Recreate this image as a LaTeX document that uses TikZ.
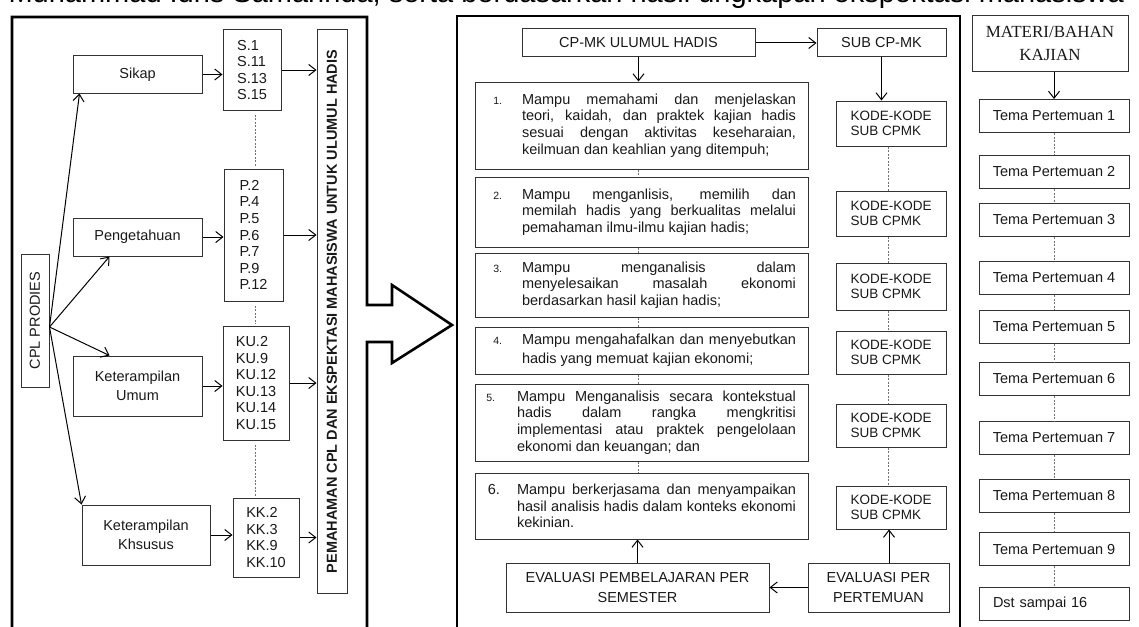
\documentclass[tikz,border=0pt]{standalone}
\usepackage{fontspec}
\setmainfont{Liberation Sans}
\newfontfamily\serifmateri{Liberation Serif}
\usetikzlibrary{arrows.meta}
\tolerance=10000
\hyphenpenalty=10000
\newcommand\nomor[1]{\noindent\llap{{\fontsize{10.5}{12}\selectfont #1}\hspace{20pt}}}

\begin{document}
\begin{tikzpicture}
    [
        x=1pt, y=-1pt,
        font=\fontsize{14.5}{16.6}\selectfont,
        box/.style={draw=black!80, line width=1pt, inner sep=0pt, align=center, text=black!90},
        twoline/.style={font=\fontsize{14.5}{19}\selectfont},
        frame/.style={line width=2.6pt, line join=miter},
        itemtext/.style={inner sep=0pt, text width=274pt, align=justify, text=black!90},
        kode/.style={box, minimum width=110pt, align=left, font=\fontsize{13.5}{15}\selectfont},
        tema/.style={box, minimum width=150pt, minimum height=33pt},
        dashline/.style={draw=black!55, line width=0.9pt, dash pattern=on 2pt off 1.5pt},
        conn/.style={->, line width=1pt},
        >={Straight Barb[length=7pt,width=11pt]}
    ]
    \useasboundingbox (0,0) rectangle (1139,626);
    \clip (0,0) rectangle (1139,626);

    \node[anchor=base west, font=\fontsize{29}{32}\selectfont] (judul) at (5,3)
        {Muhammad Idris Samarinda, serta berdasarkan hasil ungkapan ekspektasi mahasiswa};

    \draw[frame] (12,640) -- (12,17) -- (367,17) -- (367,305) -- (392,305) -- (392,285)
        -- (452,325) -- (392,363) -- (392,342) -- (367,342) -- (367,640);
    \draw[frame] (457,640) -- (457,16) -- (960,16) -- (960,640);

    \node[box, rotate=90, minimum width=133pt, minimum height=28pt] (cpl) at (35,320.5) {CPL PRODIES};
    \node[box, minimum width=129pt, minimum height=37pt] (sikap) at (137.5,74.5) {Sikap};
    \node[box, minimum width=129pt, minimum height=38pt] (penget) at (137.5,237) {Pengetahuan};
    \node[box, twoline, minimum width=129pt, minimum height=60pt] (kumum) at (137.5,386) {Keterampilan\\Umum};
    \node[box, twoline, minimum width=128pt, minimum height=60pt] (kkhusus) at (146,535) {Keterampilan\\Khsusus};
    \node[box, align=left, minimum width=58pt, minimum height=80pt] (kodes) at (252,70) {S.1\\S.11\\S.13\\S.15};
    \node[box, align=left, minimum width=59pt, minimum height=132pt] (kodep) at (253.5,235) {P.2\\P.4\\P.5\\P.6\\P.7\\P.9\\P.12};
    \node[box, align=left, minimum width=66pt, minimum height=114pt] (kodeku) at (256,383) {KU.2\\KU.9\\KU.12\\KU.13\\KU.14\\KU.15};
    \node[box, align=left, minimum width=66pt, minimum height=79pt] (kodekk) at (266,537.5) {KK.2\\KK.3\\KK.9\\KK.10};
    \node[box, rotate=90, minimum width=563pt, minimum height=30pt, font=\fontsize{14.5}{16.6}\selectfont\bfseries] (pemahaman) at (332,311.5)
        {PEMAHAMAN CPL DAN EKSPEKTASI MAHASISWA UNTUK ULUMUL HADIS};

    \coordinate (hub) at ([yshift=-6.5pt]cpl.south);
    \coordinate (dashx) at ([xshift=3pt]kodes.south);
    \draw[conn] (hub) -- ([xshift=7pt]sikap.south west);
    \draw[conn] (hub) -- ([xshift=37pt]penget.south west);
    \draw[conn] (hub) -- ([xshift=37pt]kumum.north west);
    \draw[conn] (hub) -- (kkhusus.north west);
    \draw[conn] (sikap.east) -- (sikap.east -| kodes.west);
    \draw[conn] (penget.east) -- (penget.east -| kodep.west);
    \draw[conn] (kumum.east) -- (kumum.east -| kodeku.west);
    \draw[conn] (kkhusus.east) -- (kkhusus.east -| kodekk.west);
    \draw[conn] (kodes.east) -- (kodes.east -| pemahaman.north);
    \draw[conn] (kodep.east) -- (kodep.east -| pemahaman.north);
    \draw[conn] (kodeku.east) -- (kodeku.east -| pemahaman.north);
    \draw[conn] (kodekk.east) -- (kodekk.east -| pemahaman.north);
    \draw[dashline, shorten <=4pt, shorten >=2pt] (dashx) -- (kodep.north -| dashx);
    \draw[dashline, shorten <=4pt, shorten >=2pt] (kodep.south -| dashx) -- (kodeku.north -| dashx);
    \draw[dashline, shorten <=4pt, shorten >=2pt] (kodeku.south -| dashx) -- (kodekk.north -| dashx);

    \node[box, minimum width=233pt, minimum height=28pt] (cpmk) at (638.5,43) {CP-MK ULUMUL HADIS};
    \node[box, minimum width=129pt, minimum height=28pt] (subcpmk) at (881.5,43) {SUB CP-MK};

    \node[box, minimum width=333pt, minimum height=87pt] (cp1) at (641.5,125.5) {};
    \node[box, minimum width=333pt, minimum height=70pt] (cp2) at (641.5,212) {};
    \node[box, minimum width=333pt, minimum height=64pt] (cp3) at (641.5,285) {};
    \node[box, minimum width=333pt, minimum height=47pt] (cp4) at (641.5,350.5) {};
    \node[box, minimum width=333pt, minimum height=77pt] (cp5) at (641.5,422.5) {};
    \node[box, minimum width=333pt, minimum height=66pt] (cp6) at (641.5,506) {};

    \node[itemtext] (teks1) at ([xshift=17.5pt]cp1.center)
        {\nomor{1.}Mampu memahami dan menjelaskan\linebreak teori, kaidah, dan praktek kajian hadis\linebreak sesuai dengan aktivitas keseharaian,\linebreak keilmuan dan keahlian yang ditempuh;};
    \node[itemtext] (teks2) at ([xshift=17.5pt]cp2.center)
        {\nomor{2.}Mampu menganlisis, memilih dan\linebreak memilah hadis yang berkualitas melalui\linebreak pemahaman ilmu-ilmu kajian hadis;};
    \node[itemtext] (teks3) at ([xshift=17.5pt]cp3.center)
        {\nomor{3.}Mampu menganalisis dalam\linebreak menyelesaikan masalah ekonomi\linebreak berdasarkan hasil kajian hadis;};
    \node[itemtext, font=\fontsize{14.5}{19}\selectfont] (teks4) at ([xshift=17.5pt]cp4.center)
        {\nomor{4.}Mampu mengahafalkan dan menyebutkan\linebreak hadis yang memuat kajian ekonomi;};
    \node[itemtext, text width=279pt] (teks5) at ([xshift=15pt]cp5.center)
        {\noindent\llap{{\fontsize{10.5}{12}\selectfont 5.}\hspace{22pt}}Mampu Menganalisis secara kontekstual\linebreak hadis dalam rangka mengkritisi\linebreak implementasi atau praktek pengelolaan\linebreak ekonomi dan keuangan; dan};
    \node[itemtext, text width=279pt] (teks6) at ([xshift=15pt]cp6.center)
        {\noindent\llap{6.\hspace{17pt}}Mampu berkerjasama dan menyampaikan\linebreak hasil analisis hadis dalam konteks ekonomi\linebreak kekinian.};

    \node[kode, minimum height=45pt] (kode1) at (891,123.5) {KODE-KODE\\SUB CPMK};
    \node[kode, minimum height=45pt] (kode2) at (891,213.5) {KODE-KODE\\SUB CPMK};
    \node[kode, minimum height=47pt] (kode3) at (891,286.5) {KODE-KODE\\SUB CPMK};
    \node[kode, minimum height=43pt] (kode4) at (891,352.5) {KODE-KODE\\SUB CPMK};
    \node[kode, minimum height=43pt] (kode5) at (891,425.5) {KODE-KODE\\SUB CPMK};
    \node[kode, minimum height=43pt] (kode6) at (891,507.5) {KODE-KODE\\SUB CPMK};

    \node[box, minimum width=263pt, minimum height=49pt, font=\fontsize{14.5}{20}\selectfont] (evalsem) at (637.5,587.5)
        {EVALUASI PEMBELAJARAN PER\\SEMESTER};
    \node[box, minimum width=141pt, minimum height=49pt, font=\fontsize{14.5}{20}\selectfont] (evalper) at (878.5,587.5)
        {EVALUASI PER\\PERTEMUAN};

    \draw[conn] (cpmk.east) -- (subcpmk.west);
    \draw[conn] (cpmk.south) -- (cpmk.south |- cp1.north);
    \draw[conn] (subcpmk.south) -- (subcpmk.south |- kode1.north);
    \foreach \a/\b in {cp1/cp2, cp2/cp3, cp3/cp4, cp4/cp5, cp5/cp6}
        \draw[dashline] ([xshift=-3pt]\a.south) -- ([xshift=-3pt]\b.north);
    \foreach \a/\b in {kode1/kode2, kode2/kode3, kode3/kode4, kode4/kode5, kode5/kode6}
        \draw[dashline] ([xshift=-3pt]\a.south) -- ([xshift=-3pt]\b.north);
    \draw[conn] (evalsem.north) -- (evalsem.north |- cp6.south);
    \draw[conn] (evalper.west) -- (evalsem.east);
    \draw[conn] ([xshift=-2pt]kode6.south |- evalper.north) -- ([xshift=-2pt]kode6.south);

    \node[box, minimum width=156pt, minimum height=55pt, font=\serifmateri\fontsize{17}{23}\selectfont] (materi) at (1050,43.5)
        {MATERI/BAHAN\\KAJIAN};
    \node[tema] (tema1) at (1054,116) {Tema Pertemuan 1};
    \node[tema] (tema2) at (1054,172) {Tema Pertemuan 2};
    \node[tema] (tema3) at (1054,220) {Tema Pertemuan 3};
    \node[tema] (tema4) at (1054,278) {Tema Pertemuan 4};
    \node[tema] (tema5) at (1054,327) {Tema Pertemuan 5};
    \node[tema] (tema6) at (1054,379) {Tema Pertemuan 6};
    \node[tema] (tema7) at (1054,438) {Tema Pertemuan 7};
    \node[tema] (tema8) at (1054,496) {Tema Pertemuan 8};
    \node[tema] (tema9) at (1054,549) {Tema Pertemuan 9};
    \node[tema, text width=122pt, inner xsep=14pt, align=left] (dst) at (1054,604) {Dst sampai 16};

    \draw[conn] (tema1.north |- materi.south) -- (tema1.north);
    \foreach \a/\b in {tema1/tema2, tema2/tema3, tema3/tema4, tema4/tema5, tema5/tema6, tema6/tema7, tema7/tema8, tema8/tema9, tema9/dst}
        \draw[dashline] (\a.south) -- (\b.north);
\end{tikzpicture}
\end{document}
